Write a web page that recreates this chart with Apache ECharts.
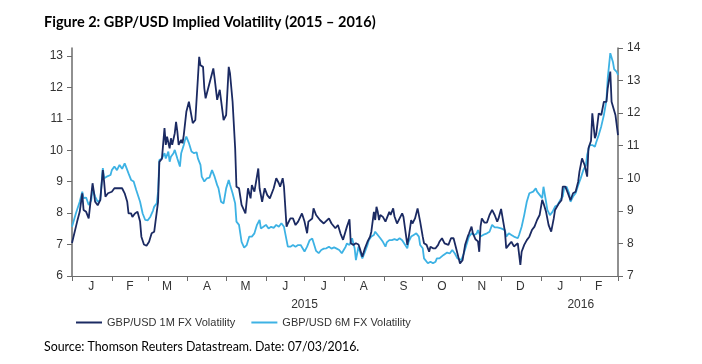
<!DOCTYPE html>
<html>
<head>
<meta charset="utf-8">
<script src="https://cdn.jsdelivr.net/npm/echarts@6/dist/echarts.min.js"></script>
<style>
html,body{margin:0;padding:0;background:#fff;}
#chart{width:702px;height:364px;}
</style>
</head>
<body>
<div id="chart"></div>
<script>
// ---- DATA ----
const titleText = 'Figure 2: GBP/USD Implied Volatility (2015 \u2013 2016)';
const sourceText = 'Source: Thomson Reuters Datastream. Date: 07/03/2016.';
const seriesNames = ['GBP/USD 1M FX Volatility', 'GBP/USD 6M FX Volatility'];

const monthTickDates = ['2015-01-01','2015-02-01','2015-03-01','2015-04-01','2015-05-01','2015-06-01','2015-07-01','2015-08-01','2015-09-01','2015-10-01','2015-11-01','2015-12-01','2016-01-01','2016-02-01','2016-03-01'];
const monthLabelDates = ['2015-01-16','2015-02-15','2015-03-16','2015-04-16','2015-05-16','2015-06-16','2015-07-16','2015-08-16','2015-09-16','2015-10-16','2015-11-16','2015-12-16','2016-01-16','2016-02-15'];
const monthLabels = ['J','F','M','A','M','J','J','A','S','O','N','D','J','F'];
const yearLabelDates = ['2015-07-01','2016-02-01'];
const yearLabels = ['2015','2016'];

const leftTicks = [6,7,8,9,10,11,12,13];
const rightTicks = [7,8,9,10,11,12,13,14];

const vol1mDates = ['2015-01-01','2015-01-05','2015-01-07','2015-01-09','2015-01-10','2015-01-12','2015-01-14','2015-01-15','2015-01-17','2015-01-18','2015-01-19','2015-01-21','2015-01-23','2015-01-25','2015-01-26','2015-01-27','2015-01-29','2015-02-01','2015-02-03','2015-02-06','2015-02-07','2015-02-09','2015-02-11','2015-02-13','2015-02-14','2015-02-16','2015-02-17','2015-02-19','2015-02-21','2015-02-23','2015-02-24','2015-02-26','2015-02-28','2015-03-02','2015-03-04','2015-03-06','2015-03-07','2015-03-09','2015-03-10','2015-03-12','2015-03-14','2015-03-15','2015-03-16','2015-03-18','2015-03-19','2015-03-20','2015-03-22','2015-03-23','2015-03-24','2015-03-25','2015-03-27','2015-03-28','2015-03-29','2015-03-31','2015-04-02','2015-04-03','2015-04-05','2015-04-07','2015-04-09','2015-04-10','2015-04-11','2015-04-13','2015-04-14','2015-04-15','2015-04-17','2015-04-18','2015-04-21','2015-04-22','2015-04-24','2015-04-26','2015-04-29','2015-05-01','2015-05-03','2015-05-04','2015-05-06','2015-05-08','2015-05-09','2015-05-11','2015-05-13','2015-05-16','2015-05-18','2015-05-20','2015-05-21','2015-05-23','2015-05-26','2015-05-27','2015-05-29','2015-05-31','2015-06-02','2015-06-04','2015-06-07','2015-06-09','2015-06-11','2015-06-12','2015-06-14','2015-06-15','2015-06-17','2015-06-18','2015-06-20','2015-06-22','2015-06-24','2015-06-26','2015-06-29','2015-07-01','2015-07-03','2015-07-04','2015-07-07','2015-07-08','2015-07-10','2015-07-13','2015-07-16','2015-07-17','2015-07-20','2015-07-22','2015-07-25','2015-07-27','2015-07-29','2015-07-31','2015-08-03','2015-08-05','2015-08-06','2015-08-08','2015-08-10','2015-08-12','2015-08-13','2015-08-15','2015-08-17','2015-08-19','2015-08-21','2015-08-22','2015-08-24','2015-08-25','2015-08-26','2015-08-27','2015-08-28','2015-08-29','2015-08-31','2015-09-02','2015-09-05','2015-09-06','2015-09-08','2015-09-09','2015-09-11','2015-09-13','2015-09-15','2015-09-16','2015-09-19','2015-09-20','2015-09-22','2015-09-23','2015-09-25','2015-09-27','2015-09-29','2015-10-01','2015-10-02','2015-10-04','2015-10-06','2015-10-07','2015-10-09','2015-10-11','2015-10-13','2015-10-14','2015-10-16','2015-10-18','2015-10-19','2015-10-21','2015-10-23','2015-10-25','2015-10-27','2015-10-29','2015-10-30','2015-11-01','2015-11-03','2015-11-05','2015-11-06','2015-11-08','2015-11-09','2015-11-11','2015-11-13','2015-11-14','2015-11-15','2015-11-16','2015-11-18','2015-11-20','2015-11-22','2015-11-24','2015-11-26','2015-11-28','2015-11-29','2015-12-01','2015-12-04','2015-12-05','2015-12-07','2015-12-09','2015-12-11','2015-12-12','2015-12-14','2015-12-16','2015-12-17','2015-12-19','2015-12-21','2015-12-23','2015-12-25','2015-12-27','2015-12-29','2015-12-31','2016-01-02','2016-01-03','2016-01-05','2016-01-07','2016-01-09','2016-01-11','2016-01-12','2016-01-15','2016-01-17','2016-01-18','2016-01-20','2016-01-22','2016-01-24','2016-01-26','2016-01-28','2016-01-30','2016-01-31','2016-02-02','2016-02-04','2016-02-06','2016-02-07','2016-02-09','2016-02-10','2016-02-12','2016-02-13','2016-02-15','2016-02-17','2016-02-19','2016-02-21','2016-02-22','2016-02-24','2016-02-25','2016-02-26','2016-02-28','2016-03-01'];
const vol1mValues = [7.05,7.73,8.04,8.63,8.10,8.04,7.83,7.77,8.95,8.68,8.36,8.25,8.41,9.37,9.00,8.52,8.63,8.68,8.79,8.79,8.84,8.79,8.63,8.36,7.99,7.99,7.88,7.99,8.04,7.73,7.25,7.00,6.96,7.09,7.36,7.41,7.73,8.36,9.63,9.73,10.70,10.17,10.43,10.06,10.38,10.17,10.54,10.90,10.59,10.17,10.33,10.22,10.48,11.22,11.54,11.48,10.86,10.96,12.29,12.97,12.70,12.65,11.97,11.65,11.97,12.03,12.60,12.29,11.60,11.92,10.96,11.12,12.65,12.44,11.54,10.06,8.84,8.79,8.26,7.99,8.79,8.47,8.89,8.68,9.42,8.79,8.36,8.79,8.57,8.47,8.79,9.11,8.95,8.84,9.11,8.84,7.57,7.67,7.83,7.83,7.62,7.73,7.99,7.73,7.36,7.73,7.83,8.15,7.94,7.78,7.67,7.62,7.83,7.67,7.52,7.62,7.35,7.15,7.57,7.80,7.04,6.99,7.04,7.00,6.88,6.61,6.88,7.09,7.25,7.41,8.04,7.78,8.20,8.04,7.78,7.94,7.88,7.73,8.04,7.94,8.15,7.90,7.67,7.83,7.99,7.88,6.99,7.20,7.78,7.67,7.83,8.15,7.73,7.25,7.04,6.99,6.77,6.93,6.88,6.88,6.99,7.09,7.20,7.04,7.09,6.99,7.20,7.20,6.88,6.56,6.40,6.50,6.99,7.25,7.35,7.57,7.36,7.17,7.10,6.77,7.57,7.83,7.70,7.70,7.94,8.10,7.94,7.73,7.83,8.13,7.41,6.88,6.99,7.09,6.94,6.88,7.04,6.35,6.77,6.99,7.14,7.25,7.46,7.57,7.78,7.94,8.42,8.31,8.04,7.62,7.41,7.83,8.10,8.31,8.41,8.84,8.84,8.63,8.41,8.63,8.68,9.00,9.32,9.74,9.53,9.16,10.06,10.30,11.17,10.38,10.50,11.17,11.12,11.54,11.54,11.97,12.50,11.54,11.48,11.12,10.48];

const vol6mDates = ['2015-01-01','2015-01-04','2015-01-07','2015-01-09','2015-01-10','2015-01-12','2015-01-14','2015-01-16','2015-01-17','2015-01-19','2015-01-21','2015-01-23','2015-01-25','2015-01-26','2015-01-28','2015-01-31','2015-02-01','2015-02-03','2015-02-05','2015-02-07','2015-02-09','2015-02-11','2015-02-12','2015-02-14','2015-02-16','2015-02-18','2015-02-20','2015-02-21','2015-02-23','2015-02-25','2015-02-27','2015-03-01','2015-03-03','2015-03-05','2015-03-06','2015-03-08','2015-03-09','2015-03-10','2015-03-12','2015-03-14','2015-03-15','2015-03-17','2015-03-18','2015-03-19','2015-03-21','2015-03-22','2015-03-24','2015-03-26','2015-03-27','2015-03-29','2015-03-30','2015-03-31','2015-04-02','2015-04-04','2015-04-06','2015-04-08','2015-04-09','2015-04-11','2015-04-12','2015-04-14','2015-04-16','2015-04-18','2015-04-20','2015-04-22','2015-04-24','2015-04-25','2015-04-27','2015-04-29','2015-05-01','2015-05-03','2015-05-04','2015-05-06','2015-05-08','2015-05-09','2015-05-11','2015-05-13','2015-05-15','2015-05-17','2015-05-19','2015-05-21','2015-05-23','2015-05-25','2015-05-27','2015-05-28','2015-05-30','2015-06-01','2015-06-03','2015-06-05','2015-06-07','2015-06-09','2015-06-11','2015-06-13','2015-06-15','2015-06-16','2015-06-18','2015-06-20','2015-06-22','2015-06-24','2015-06-26','2015-06-28','2015-06-29','2015-07-01','2015-07-03','2015-07-05','2015-07-07','2015-07-09','2015-07-10','2015-07-12','2015-07-14','2015-07-16','2015-07-18','2015-07-20','2015-07-22','2015-07-24','2015-07-26','2015-07-28','2015-07-30','2015-08-02','2015-08-03','2015-08-05','2015-08-07','2015-08-09','2015-08-10','2015-08-12','2015-08-14','2015-08-15','2015-08-17','2015-08-19','2015-08-20','2015-08-22','2015-08-24','2015-08-25','2015-08-26','2015-08-27','2015-08-29','2015-08-31','2015-09-02','2015-09-03','2015-09-05','2015-09-07','2015-09-09','2015-09-11','2015-09-13','2015-09-15','2015-09-16','2015-09-19','2015-09-20','2015-09-22','2015-09-24','2015-09-26','2015-09-28','2015-09-29','2015-10-01','2015-10-02','2015-10-05','2015-10-07','2015-10-09','2015-10-11','2015-10-12','2015-10-14','2015-10-17','2015-10-18','2015-10-20','2015-10-22','2015-10-24','2015-10-26','2015-10-28','2015-10-29','2015-10-31','2015-11-02','2015-11-04','2015-11-06','2015-11-08','2015-11-10','2015-11-12','2015-11-13','2015-11-15','2015-11-16','2015-11-18','2015-11-20','2015-11-22','2015-11-24','2015-11-26','2015-11-28','2015-11-29','2015-12-01','2015-12-04','2015-12-05','2015-12-07','2015-12-09','2015-12-11','2015-12-12','2015-12-14','2015-12-15','2015-12-17','2015-12-19','2015-12-21','2015-12-23','2015-12-24','2015-12-26','2015-12-28','2015-12-29','2015-12-31','2016-01-02','2016-01-03','2016-01-05','2016-01-06','2016-01-08','2016-01-10','2016-01-12','2016-01-14','2016-01-16','2016-01-18','2016-01-19','2016-01-21','2016-01-23','2016-01-24','2016-01-26','2016-01-28','2016-01-30','2016-02-01','2016-02-03','2016-02-05','2016-02-06','2016-02-08','2016-02-10','2016-02-12','2016-02-13','2016-02-15','2016-02-17','2016-02-19','2016-02-21','2016-02-22','2016-02-24','2016-02-26','2016-02-27','2016-02-29','2016-03-01'];
const vol6mValues = [8.51,8.92,9.28,9.59,9.39,9.41,9.18,9.33,9.69,9.44,9.28,9.33,10.31,10.00,10.05,10.10,10.25,10.36,10.25,10.41,10.29,10.46,10.36,10.15,9.95,9.90,9.64,9.59,9.28,8.92,8.72,8.71,8.82,9.00,9.13,9.23,9.59,10.56,10.61,10.77,10.61,10.82,10.51,10.66,10.77,10.87,10.61,10.36,10.77,11.02,11.18,11.28,11.08,10.82,10.77,10.80,10.61,10.41,10.05,9.90,10.00,10.02,10.25,10.05,9.79,9.70,9.28,9.23,9.69,9.95,9.80,9.54,9.23,8.67,8.57,8.05,7.87,7.95,8.21,8.21,8.31,8.57,8.72,8.46,8.51,8.57,8.46,8.51,8.48,8.57,8.51,8.62,8.51,8.51,7.90,7.90,7.95,7.90,7.95,7.95,7.90,7.75,7.90,8.10,8.15,7.90,7.77,7.70,7.80,7.84,7.85,7.90,7.84,7.88,7.84,7.80,7.70,7.90,8.00,7.95,8.16,7.85,7.49,7.90,7.64,7.54,7.74,7.95,8.10,8.21,8.26,8.36,8.41,8.26,8.16,8.05,7.90,8.03,8.10,8.10,8.13,8.10,8.16,8.10,8.05,7.85,8.05,8.21,8.26,8.31,8.21,7.95,7.85,7.54,7.39,7.44,7.39,7.44,7.54,7.54,7.64,7.69,7.72,7.69,7.80,7.69,7.54,7.49,7.49,7.69,7.95,8.21,8.31,8.26,8.30,8.41,8.21,8.26,8.28,8.31,8.36,8.57,8.49,8.49,8.49,8.46,8.41,8.21,8.31,8.26,8.21,8.18,8.16,8.26,8.51,8.87,9.28,9.54,9.54,9.59,9.69,9.59,9.49,9.39,9.74,9.28,9.03,8.87,8.97,9.13,9.18,9.33,9.44,9.69,9.74,9.54,9.28,9.44,9.54,9.79,10.00,10.25,10.40,10.72,11.02,11.02,10.97,11.10,11.33,11.60,11.94,12.40,13.07,13.84,13.58,13.35,13.27,13.17];

// ---- HELPERS ----
function toTime(s){ const p = s.split('-').map(Number); return Date.UTC(p[0], p[1]-1, p[2]); }
function zip(ds, vs){ return ds.map((d,i)=>[toTime(d), vs[i]]); }
function monthKey(t){ const d = new Date(t); return d.getUTCFullYear()*12 + d.getUTCMonth(); }
const labelByMonth = {};
monthLabelDates.forEach((d,i)=>{ labelByMonth[monthKey(toTime(d))] = monthLabels[i]; });
const labelByYear = {};
yearLabelDates.forEach((d,i)=>{ labelByYear[toTime(d)] = yearLabels[i]; });

const axisColor = '#6b6b6b';
const textColor = '#333333';
const font = 'Liberation Sans, Arial, sans-serif';
const xMin = toTime(monthTickDates[0]);
const xMax = toTime(monthTickDates[monthTickDates.length-1]);

const chart = echarts.init(document.getElementById('chart'), null, {renderer:'canvas'});
chart.setOption({
  animation: false,
  backgroundColor: '#ffffff',
  title: [
    { text: titleText, left: 39, top: 10,
      textStyle: { fontFamily: 'Lato, sans-serif', fontWeight: 'bold', fontSize: 14.5, color: '#000' } },
    { text: sourceText, left: 39, top: 336,
      textStyle: { fontFamily: 'Lato, sans-serif', fontWeight: 'normal', fontSize: 12.4, color: '#000' } }
  ],
  legend: {
    left: 71, top: 312, icon: 'rect', itemWidth: 26, itemHeight: 2, itemGap: 16,
    textStyle: { fontFamily: font, fontSize: 11, color: textColor },
    data: seriesNames
  },
  grid: { left: 72, right: 84, top: 48, bottom: 88, containLabel: false },
  xAxis: [
    { type: 'value', min: xMin, max: xMax, position: 'bottom',
      axisLine: { show: true, lineStyle: { color: axisColor, width: 1 } },
      axisTick: { show: true, length: 5, lineStyle: { color: axisColor }, customValues: monthTickDates.map(toTime) },
      axisLabel: { show: true, margin: 5, fontFamily: font, fontSize: 12, color: textColor,
        customValues: monthLabelDates.map(toTime),
        formatter: v => labelByMonth[monthKey(v)] || '' },
      splitLine: { show: false }
    },
    { type: 'value', min: xMin, max: xMax, position: 'bottom',
      axisLine: { show: false }, axisTick: { show: false },
      axisLabel: { show: true, margin: 23, fontFamily: font, fontSize: 12, color: textColor,
        customValues: yearLabelDates.map(toTime),
        formatter: v => labelByYear[v] || '' },
      splitLine: { show: false }
    }
  ],
  yAxis: [
    { type: 'value', min: 6, max: 13.25, position: 'left',
      axisLine: { show: true, lineStyle: { color: axisColor, width: 1.5 } },
      axisTick: { show: true, length: 5, lineStyle: { color: axisColor }, customValues: leftTicks },
      axisLabel: { margin: 9, fontFamily: font, fontSize: 12, color: textColor, customValues: leftTicks },
      splitLine: { show: false }
    },
    { type: 'value', min: 7, max: 14, interval: 1, position: 'right',
      axisLine: { show: true, lineStyle: { color: axisColor, width: 1.5 } },
      axisTick: { show: true, length: 5, lineStyle: { color: axisColor }, customValues: rightTicks },
      axisLabel: { margin: 9, fontFamily: font, fontSize: 12, color: textColor, customValues: rightTicks },
      splitLine: { show: false }
    }
  ],
  series: [
    { name: seriesNames[0], type: 'line', xAxisIndex: 0, yAxisIndex: 0, symbol: 'none',
      lineStyle: { color: '#1b2a62', width: 1.8 }, itemStyle: { color: '#1b2a62' },
      data: zip(vol1mDates, vol1mValues), z: 3 },
    { name: seriesNames[1], type: 'line', xAxisIndex: 0, yAxisIndex: 1, symbol: 'none',
      lineStyle: { color: '#3db2e4', width: 1.8 }, itemStyle: { color: '#3db2e4' },
      data: zip(vol6mDates, vol6mValues), z: 2 }
  ]
});
</script>
</body>
</html>
